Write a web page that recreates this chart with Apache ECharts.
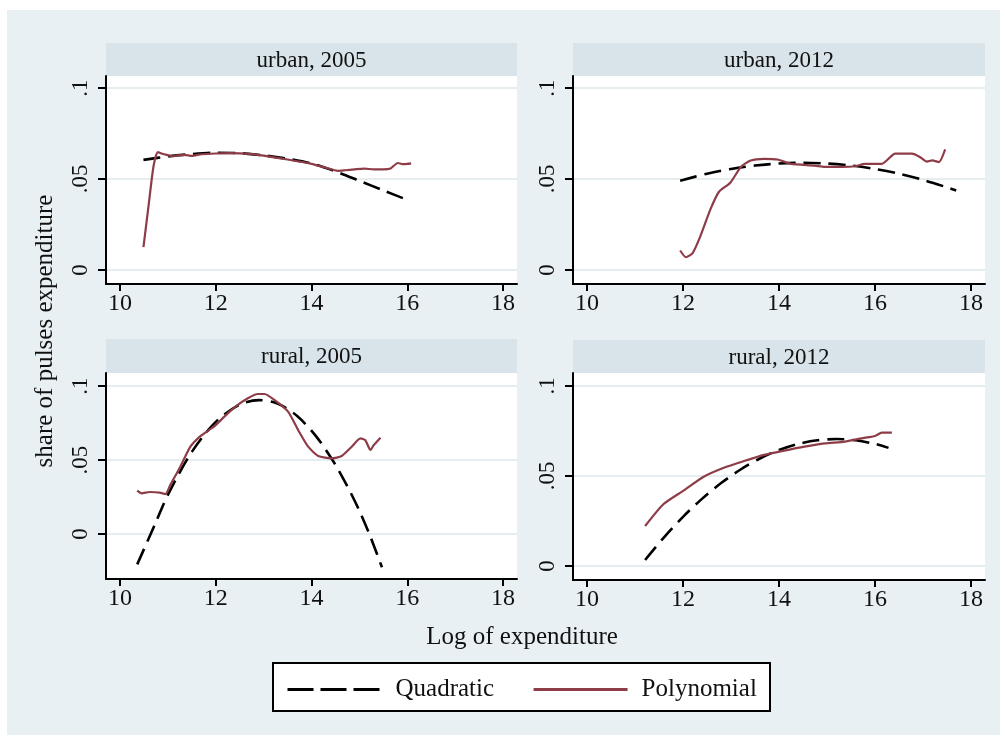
<!DOCTYPE html>
<html>
<head>
<meta charset="utf-8">
<title>share of pulses expenditure</title>
<script src="https://cdn.jsdelivr.net/npm/echarts@6/dist/echarts.min.js"></script>
<style>
  html, body { margin: 0; padding: 0; background: #fff; }
  #main { width: 1005px; height: 738px; }
</style>
</head>
<body>
<div id="main"></div>
<script>
// panel titles, in order: top-left, top-right, bottom-left, bottom-right
var panelTitles = ['urban, 2005', 'urban, 2012', 'rural, 2005', 'rural, 2012'];
var xTicks = [10, 12, 14, 16, 18];
var yTicks = [0, 0.05, 0.1];
var seriesNames = ['Quadratic', 'Polynomial'];

// [log expenditure, share]
var urban2005Quad = [[10.49,0.0605],[11,0.0624],[11.5,0.0637],[12,0.0644],[12.5,0.0642],[13,0.063],[13.5,0.0611],[14,0.0585],[14.5,0.0542],[15,0.049],[15.5,0.0437],[16.04,0.0381]];
var urban2005Poly = [[10.49,0.0126],[10.6,0.036],[10.7,0.057],[10.79,0.0648],[10.9,0.0637],[11.0,0.0631],[11.1,0.0625],[11.2,0.063],[11.35,0.0633],[11.5,0.0627],[11.7,0.0636],[12.0,0.064],[12.3,0.0642],[12.7,0.0638],[13.0,0.0628],[13.5,0.0607],[14.0,0.0583],[14.3,0.0562],[14.55,0.0545],[14.7,0.0548],[14.9,0.0553],[15.1,0.0557],[15.3,0.0553],[15.5,0.0553],[15.65,0.0558],[15.8,0.0588],[15.9,0.0582],[16.0,0.0583],[16.08,0.0586]];
var urban2012Quad = [[11.94,0.0491],[12.5,0.0529],[13,0.0555],[13.5,0.0574],[14,0.0585],[14.5,0.0589],[15,0.0585],[15.5,0.0574],[16,0.0555],[16.5,0.0529],[17,0.0495],[17.5,0.0454],[17.69,0.0437]];
var urban2012Poly = [[11.94,0.0107],[12.06,0.007],[12.2,0.0093],[12.36,0.0185],[12.57,0.0333],[12.75,0.043],[12.99,0.0481],[13.2,0.0565],[13.41,0.0602],[13.69,0.0611],[13.97,0.0607],[14.25,0.0583],[14.74,0.0574],[14.95,0.0567],[15.3,0.0567],[15.58,0.057],[15.79,0.0583],[16.14,0.0583],[16.42,0.0639],[16.77,0.0639],[16.94,0.062],[17.08,0.0596],[17.19,0.0602],[17.33,0.0593],[17.46,0.0663]];
var rural2005Quad = [[10.36,-0.0205],[10.75,0.008],[11.0,0.0265],[11.5,0.0555],[12.0,0.0758],[12.5,0.0875],[12.9,0.0905],[13.3,0.088],[13.7,0.0797],[14.1,0.0658],[14.5,0.0467],[14.9,0.0225],[15.2,0.0005],[15.47,-0.0225]];
var rural2005Poly = [[10.36,0.0293],[10.45,0.0275],[10.62,0.0284],[10.83,0.028],[10.95,0.027],[11.05,0.0331],[11.26,0.0455],[11.47,0.059],[11.68,0.0662],[11.96,0.0725],[12.18,0.0793],[12.39,0.0856],[12.67,0.0917],[12.88,0.0946],[13.02,0.0946],[13.23,0.0905],[13.51,0.0827],[13.72,0.0703],[13.93,0.059],[14.14,0.0527],[14.42,0.0511],[14.63,0.0527],[14.84,0.059],[15.02,0.0646],[15.12,0.0635],[15.23,0.0568],[15.3,0.0601],[15.44,0.0651]];
var rural2012Quad = [[11.21,0.0033],[11.6,0.0158],[12.0,0.0273],[12.4,0.0374],[12.8,0.0462],[13.2,0.0536],[13.6,0.0597],[14.0,0.0644],[14.4,0.0678],[14.8,0.0698],[15.2,0.0705],[15.6,0.0698],[16.0,0.0678],[16.28,0.0656]];
var rural2012Poly = [[11.21,0.0222],[11.59,0.0343],[12.01,0.0419],[12.43,0.0496],[12.85,0.0546],[13.27,0.0583],[13.69,0.0617],[14.11,0.0641],[14.53,0.0663],[14.95,0.0681],[15.37,0.0691],[15.72,0.0709],[16.0,0.0722],[16.14,0.0741],[16.35,0.0741]];

var quadData = [urban2005Quad, urban2012Quad, rural2005Quad, rural2012Quad];
var polyData = [urban2005Poly, urban2012Poly, rural2005Poly, rural2012Poly];

var FONT = '"Liberation Serif", "DejaVu Serif", serif';
var RED = '#8e3d48';

// plot boxes (px) and y ranges of each panel
var boxes = [
  { left: 106, top: 76, width: 411, height: 208, ymin: -0.0077, ymax: 0.1066, head: 43 },
  { left: 573, top: 76, width: 412, height: 208, ymin: -0.0077, ymax: 0.1066, head: 43 },
  { left: 106, top: 373, width: 411, height: 206, ymin: -0.0304, ymax: 0.1088, head: 339 },
  { left: 573, top: 373, width: 412, height: 207, ymin: -0.0078, ymax: 0.1072, head: 340 }
];

var grids = [], xAxes = [], yAxes = [], series = [], graphics = [];

// white page margins round the grey background
graphics.push({ type: 'rect', shape: { x: 0, y: 0, width: 1005, height: 10 }, style: { fill: '#fff' } });
graphics.push({ type: 'rect', shape: { x: 0, y: 0, width: 7, height: 738 }, style: { fill: '#fff' } });
graphics.push({ type: 'rect', shape: { x: 1000, y: 0, width: 5, height: 738 }, style: { fill: '#fff' } });
graphics.push({ type: 'rect', shape: { x: 0, y: 735, width: 1005, height: 3 }, style: { fill: '#fff' } });

boxes.forEach(function (b, i) {
  grids.push({
    left: b.left, top: b.top, width: b.width, height: b.height,
    show: true, backgroundColor: '#fff', borderWidth: 0
  });
  xAxes.push({
    type: 'value', gridIndex: i, min: 9.708, max: 18.29,
    axisLine: { onZero: false, lineStyle: { color: '#000', width: 2 } },
    axisTick: { show: true, length: 7, lineStyle: { color: '#000', width: 2 }, customValues: xTicks },
    axisLabel: { customValues: xTicks, margin: 8, fontFamily: FONT, fontSize: 24, color: '#111' },
    splitLine: { show: false }
  });
  yAxes.push({
    type: 'value', gridIndex: i, min: b.ymin, max: b.ymax,
    axisLine: { show: true, onZero: false, lineStyle: { color: '#000', width: 2 } },
    axisTick: { show: true, length: 8, lineStyle: { color: '#000', width: 2 }, customValues: yTicks },
    axisLabel: {
      customValues: yTicks, rotate: 90, margin: 14, fontFamily: FONT, fontSize: 23, color: '#111',
      formatter: function (v) { return v === 0 ? '0' : String(v).replace('0.', '.'); }
    },
    splitLine: { show: true, lineStyle: { color: '#e5edf1', width: 2 } }
  });
  series.push({
    name: seriesNames[0], type: 'line', xAxisIndex: i, yAxisIndex: i,
    data: quadData[i], symbol: 'none', smooth: 0.3, z: 3,
    lineStyle: { color: '#000', width: 2.6, type: [17, 8] },
    itemStyle: { color: '#000' }
  });
  series.push({
    name: seriesNames[1], type: 'line', xAxisIndex: i, yAxisIndex: i,
    data: polyData[i], symbol: 'none', smooth: 0.2, z: 4,
    lineStyle: { color: RED, width: 2.2 },
    itemStyle: { color: RED }
  });
  // panel header strip
  graphics.push({
    type: 'group',
    children: [
      { type: 'rect', shape: { x: b.left, y: b.head, width: b.width, height: b.top - b.head }, style: { fill: '#d8e4ea' } },
      { type: 'text', x: b.left + b.width / 2, y: b.head + (b.top - b.head) / 2 + 1,
        style: { text: panelTitles[i], font: '23px ' + FONT, fill: '#111', align: 'center', verticalAlign: 'middle' } }
    ]
  });
});

// axis titles
graphics.push({ type: 'text', x: 45, y: 331, rotation: Math.PI / 2,
  style: { text: 'share of pulses expenditure', font: '25px ' + FONT, fill: '#111', align: 'center', verticalAlign: 'middle' } });
graphics.push({ type: 'text', x: 522, y: 637,
  style: { text: 'Log of expenditure', font: '25px ' + FONT, fill: '#111', align: 'center', verticalAlign: 'middle' } });
// legend frame
graphics.push({ type: 'rect', z: 3, shape: { x: 273, y: 663, width: 497, height: 48 },
  style: { fill: '#fff', stroke: '#000', lineWidth: 2 } });

var chart = echarts.init(document.getElementById('main'), null, { renderer: 'canvas' });
chart.setOption({
  backgroundColor: '#e8f0f3',
  animation: false,
  grid: grids,
  xAxis: xAxes,
  yAxis: yAxes,
  legend: {
    left: 281, top: 672, itemWidth: 94, itemHeight: 14, itemGap: 38,
    textStyle: { fontFamily: FONT, fontSize: 25, color: '#111', padding: [0, 0, 0, 9] },
    // hide the point marker, keep only the line sample
    data: [
      { name: 'Quadratic', itemStyle: { opacity: 0 }, lineStyle: { type: [26, 7], width: 3, color: '#000' } },
      { name: 'Polynomial', itemStyle: { opacity: 0 }, lineStyle: { width: 3, color: RED } }
    ]
  },
  graphic: graphics,
  series: series
});
</script>
</body>
</html>
